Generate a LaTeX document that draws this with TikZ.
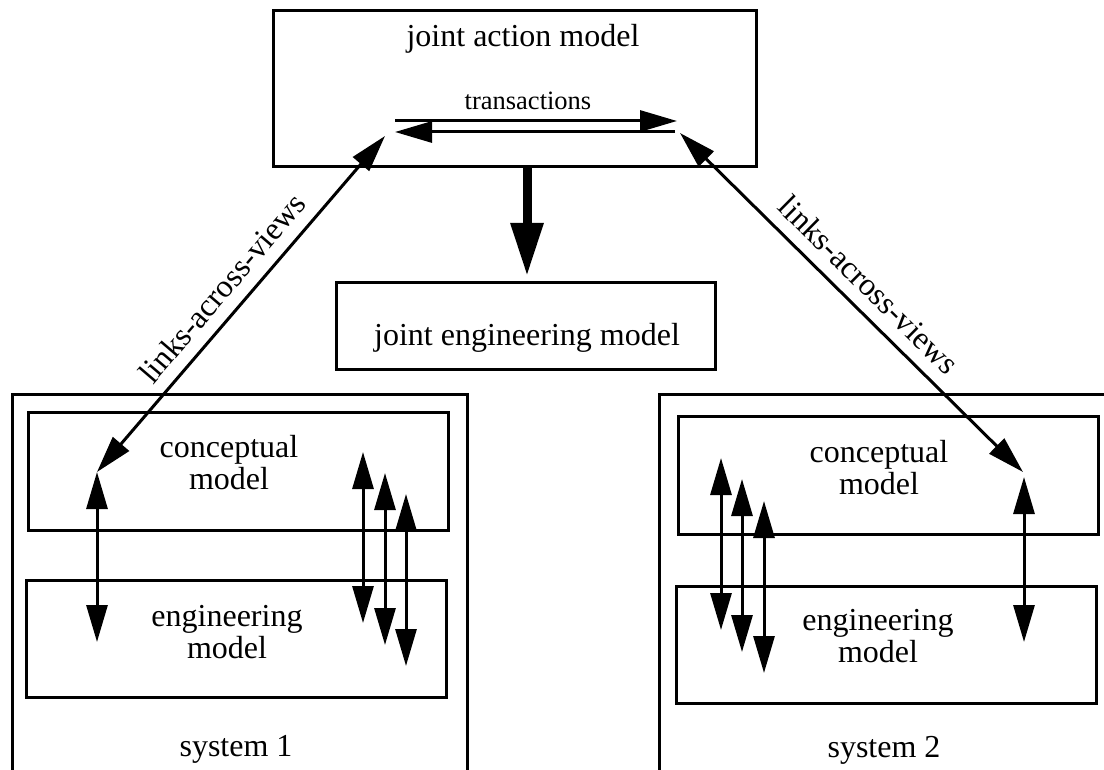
\documentclass[tikz,border=0pt]{standalone}
\usepackage{fontspec}
\setmainfont{Liberation Serif}
\usetikzlibrary{arrows.meta}

\begin{document}
\begin{tikzpicture}[
  x=1pt, y=-1pt,
  line width=3pt,
  box/.style={draw, rectangle, inner sep=0pt, line width=3pt},
  lbl/.style={font=\fontsize{32}{32}\selectfont, inner sep=0pt, align=center},
  smalllbl/.style={font=\fontsize{26.5}{28}\selectfont, inner sep=0pt},
  linklbl/.style={font=\fontsize{32}{32}\selectfont, sloped, anchor=south, inner sep=12pt},
  twoway/.style={{Triangle[length=37pt, width=21pt]}-{Triangle[length=37pt, width=21pt]}},
  oneway/.style={-{Triangle[length=37pt, width=21pt]}},
  bigarrow/.style={line width=9pt, -{Triangle[length=53pt, width=31pt]}}
]
\useasboundingbox (0,0) rectangle (1104,770);
\clip (0,0) rectangle (1104,770);

% ---- boxes ----
\node[box, minimum width=483pt, minimum height=156pt] (jam) at (514.5,89) {};
\node[box, minimum width=379pt, minimum height=86pt]  (jem) at (525.5,326) {};
\node[box, minimum width=455pt, minimum height=406pt] (sys1) at (239.5,597) {};
\node[box, minimum width=461pt, minimum height=406pt] (sys2) at (889.5,597) {};
\node[box, minimum width=420pt, minimum height=118pt] (cm1) at (238,471) {};
\node[box, minimum width=420pt, minimum height=117pt] (em1) at (236,638.5) {};
\node[box, minimum width=420pt, minimum height=118pt] (cm2) at (888,475) {};
\node[box, minimum width=420pt, minimum height=117pt] (em2) at (886,644.5) {};

% ---- texts (multi-line labels are placed by the baseline of their last line) ----
\node[lbl, anchor=base] (tjam) at (523,47) {joint action model};
\node[smalllbl, anchor=base] (ttr) at (528,110) {transactions};
\node[lbl, anchor=base] (tjem) at (527,345) {joint engineering model};
\node[lbl, anchor=base] (tcm1) at (229,489) {conceptual\\model};
\node[lbl, anchor=base] (tem1) at (227,658) {engineering\\model};
\node[lbl, anchor=base] (ts1) at (236,756) {system 1};
\node[lbl, anchor=base] (tcm2) at (879,494) {conceptual\\model};
\node[lbl, anchor=base] (tem2) at (878,662) {engineering\\model};
\node[lbl, anchor=base] (ts2) at (884,757) {system 2};

% ---- arrow end points ----
\coordinate (tra) at (395,121);
\coordinate (trb) at (677,121);
\coordinate (trc) at (675,132);
\coordinate (trd) at (395,132);
\coordinate (dna) at (527,168);
\coordinate (dnb) at (527,276);
\coordinate (lla) at (97,472);
\coordinate (llb) at (385,136);
\coordinate (rla) at (680,133);
\coordinate (rlb) at (1023,472);
% system 1
\coordinate (s1a) at (97,472);  \coordinate (s1b) at (97,642);
\coordinate (s1c) at (363,452); \coordinate (s1d) at (363,623);
\coordinate (s1e) at (385,473); \coordinate (s1f) at (385,645);
\coordinate (s1g) at (406,494); \coordinate (s1h) at (406,666);
% system 2
\coordinate (s2a) at (1024,477); \coordinate (s2b) at (1024,642);
\coordinate (s2c) at (721,458);  \coordinate (s2d) at (721,630);
\coordinate (s2e) at (742,479);  \coordinate (s2f) at (742,652);
\coordinate (s2g) at (764,501);  \coordinate (s2h) at (764,673);

% ---- connectors ----
\draw[oneway] (tra) -- (trb);
\draw[oneway] (trc) -- (trd);
\draw[bigarrow] (dna) -- (dnb);
\draw[twoway] (lla) -- node[linklbl, pos=0.5] {links-across-views} (llb);
\draw[twoway] (rla) -- node[linklbl, pos=0.5] {links-across-views} (rlb);

\draw[twoway] (s1a) -- (s1b);
\draw[twoway] (s1c) -- (s1d);
\draw[twoway] (s1e) -- (s1f);
\draw[twoway] (s1g) -- (s1h);

\draw[twoway] (s2a) -- (s2b);
\draw[twoway] (s2c) -- (s2d);
\draw[twoway] (s2e) -- (s2f);
\draw[twoway] (s2g) -- (s2h);
\end{tikzpicture}
\end{document}
